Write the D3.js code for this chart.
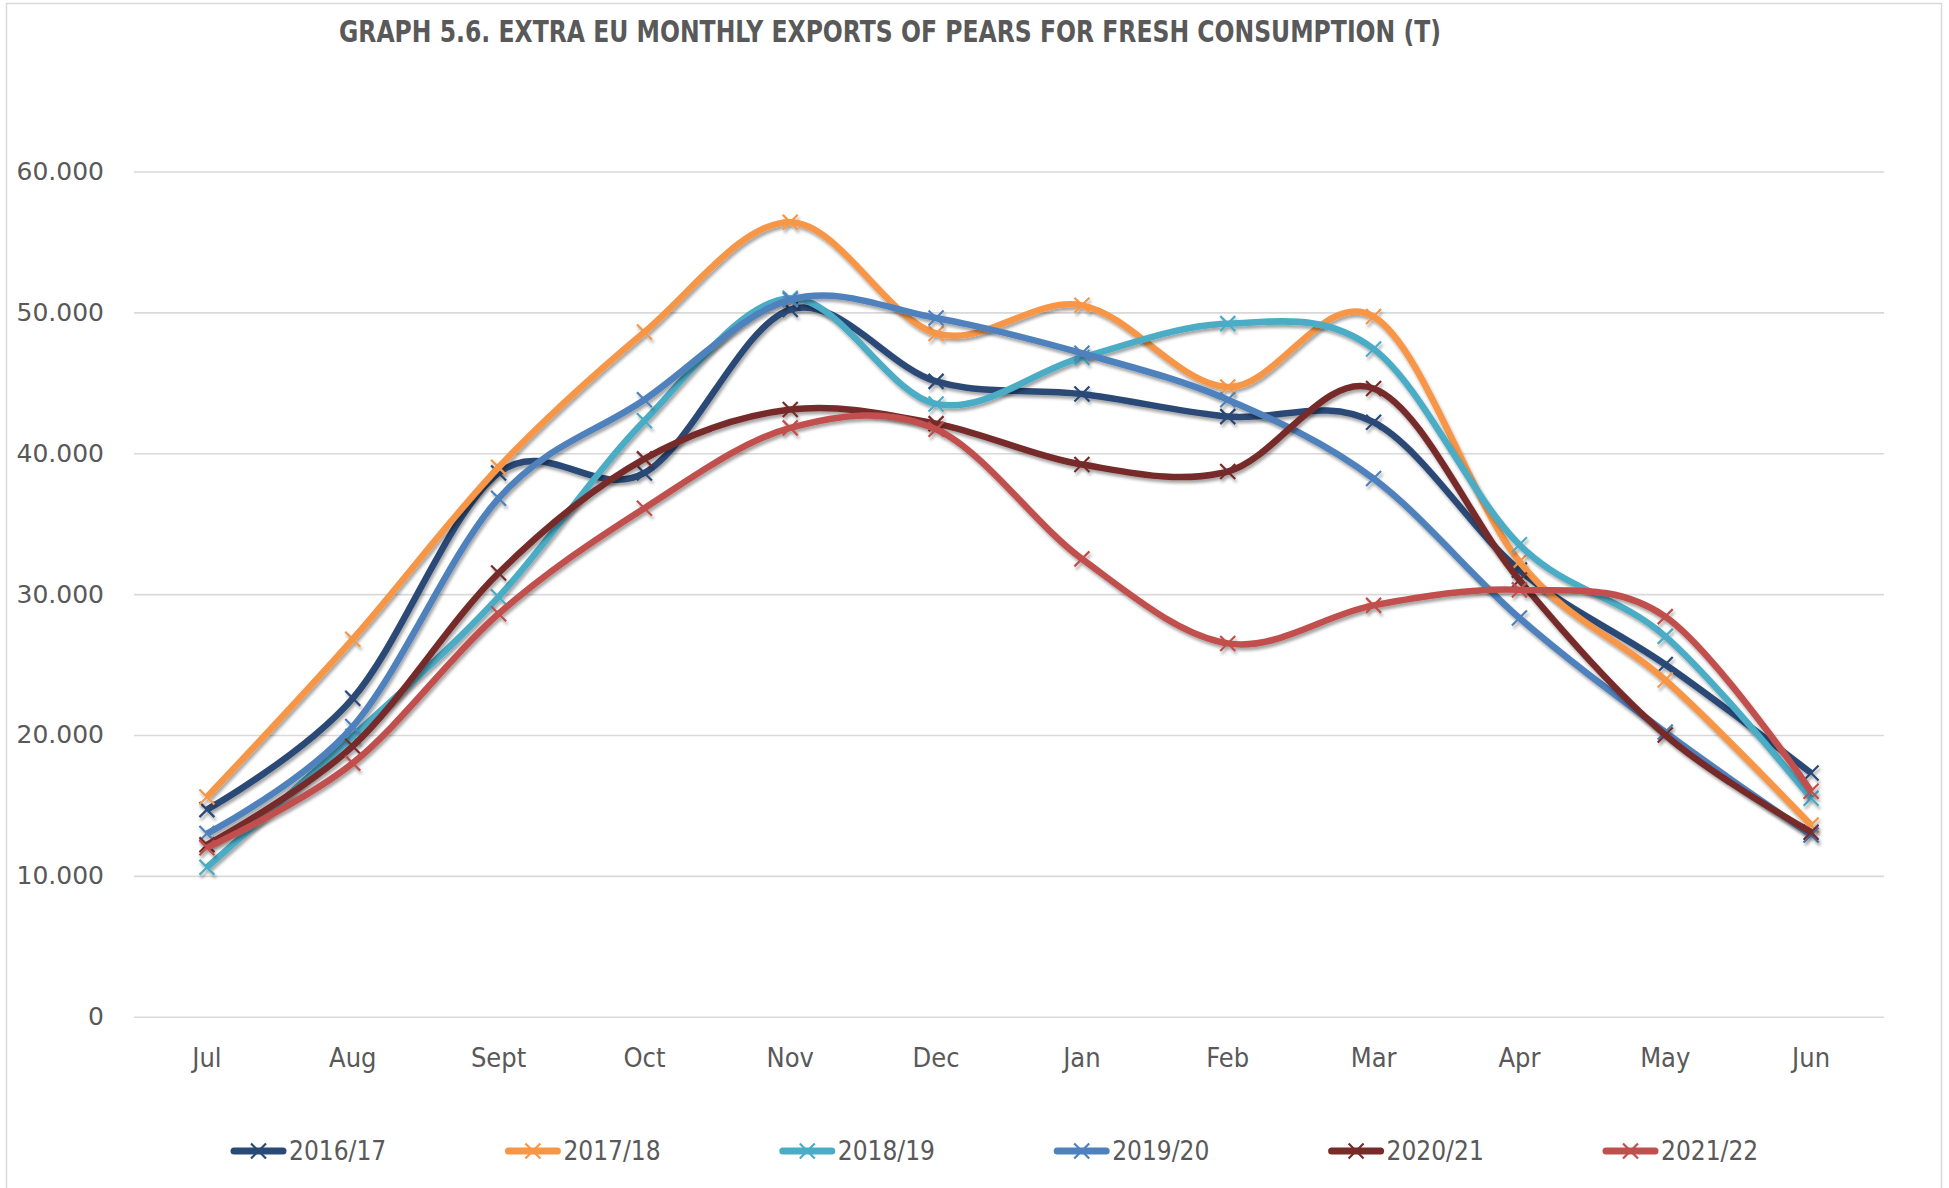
<!DOCTYPE html>
<html>
<head>
<meta charset="utf-8">
<script src="https://cdn.jsdelivr.net/npm/d3@7"></script>
<style>
  html, body { margin: 0; padding: 0; background: #fff; }
  svg { display: block; }
</style>
</head>
<body>
<svg id="chart" width="1949" height="1188"></svg>
<script>
const months = ['Jul', 'Aug', 'Sept', 'Oct', 'Nov', 'Dec', 'Jan', 'Feb', 'Mar', 'Apr', 'May', 'Jun'];
const seasons = ['2016/17', '2017/18', '2018/19', '2019/20', '2020/21', '2021/22'];
const yTicks = [0, 10000, 20000, 30000, 40000, 50000, 60000];

const s2016 = [14700, 22600, 38600, 38600, 50200, 45100, 44200, 42600, 42200, 31700, 25000, 17300];
const s2017 = [15600, 26800, 39000, 48600, 56400, 48500, 50500, 44700, 49700, 32300, 23900, 13600];
const s2018 = [10600, 19900, 29800, 42300, 51000, 43500, 46800, 49200, 47400, 33500, 27000, 15500];
const s2019 = [13000, 20600, 36800, 43800, 50900, 49600, 47100, 43800, 38200, 28300, 20200, 12900];
const s2020 = [12200, 19200, 31500, 39600, 43100, 42100, 39200, 38700, 44600, 31000, 20000, 13100];
const s2021 = [12000, 18000, 28600, 36100, 41800, 41700, 32500, 26500, 29200, 30300, 28400, 16000];

const colors = ['#2a4a76', '#f79646', '#4bacc6', '#4f81bd', '#772c2a', '#c0504d'];
const series = [s2016, s2017, s2018, s2019, s2020, s2021].map((values, i) => ({
    name: seasons[i], values, color: colors[i]
}));

const svg = d3.select('#chart');
const plotLeft = 134, plotRight = 1884, plotTop = 171.5, plotBottom = 1016.7;
const narrowFont = '"Liberation Sans Narrow", "DejaVu Sans Condensed", sans-serif';

const defs = svg.append('defs');
const shadow = defs.append('filter').attr('id', 'shadow')
    .attr('x', '-5%').attr('y', '-5%').attr('width', '110%').attr('height', '115%');
shadow.append('feDropShadow')
    .attr('dx', 1.5).attr('dy', 3).attr('stdDeviation', 1.6)
    .attr('flood-color', '#000').attr('flood-opacity', 0.35);

// chart frame
svg.append('rect')
    .attr('x', 6.5).attr('y', 3.5).attr('width', 1935).attr('height', 1200)
    .attr('fill', 'none').attr('stroke', '#d9d9d9').attr('stroke-width', 1.5);

svg.append('text')
    .attr('x', 339).attr('y', 42)
    .attr('textLength', 1102).attr('lengthAdjust', 'spacingAndGlyphs')
    .attr('font-family', narrowFont)
    .attr('font-weight', 'bold').attr('font-size', 31).attr('fill', '#595959')
    .text('GRAPH 5.6. EXTRA EU MONTHLY EXPORTS OF PEARS FOR FRESH CONSUMPTION (T)');

const x = d3.scaleBand().domain(months).range([plotLeft, plotRight]);
const y = d3.scaleLinear().domain([0, 60000]).range([plotBottom, plotTop]);
const cx = m => x(m) + x.bandwidth() / 2;

const fmt = d3.formatLocale({decimal: ',', thousands: '.', grouping: [3], currency: ['', '']}).format(',');

const yAxis = svg.append('g')
    .attr('transform', `translate(${plotLeft},0)`)
    .call(d3.axisLeft(y).tickValues(yTicks).tickFormat(fmt).tickSize(-(plotRight - plotLeft)).tickPadding(30));
yAxis.select('.domain').remove();
yAxis.selectAll('line').attr('stroke', '#d9d9d9').attr('stroke-width', 1.6);
yAxis.selectAll('text')
    .attr('font-family', '"DejaVu Sans", sans-serif').attr('font-size', 25).attr('fill', '#595959');

const xAxis = svg.append('g')
    .attr('transform', `translate(0,${plotBottom})`)
    .call(d3.axisBottom(x).tickSize(0).tickPadding(31));
xAxis.select('.domain').remove();
xAxis.selectAll('text')
    .attr('font-family', narrowFont)
    .attr('font-size', 27).attr('fill', '#595959');

const line = d3.line()
    .x((d, i) => cx(months[i]))
    .y(d => y(d))
    .curve(d3.curveCatmullRom.alpha(0));

const markerPath = r => `M${-r},${-r}L${r},${r}M${-r},${r}L${r},${-r}`;

const groups = svg.append('g').selectAll('.series')
    .data(series)
    .enter()
    .append('g')
    .attr('class', 'series')
    .attr('filter', 'url(#shadow)');

groups.append('path')
    .attr('d', d => line(d.values))
    .attr('fill', 'none')
    .attr('stroke', d => d.color)
    .attr('stroke-width', 6.5)
    .attr('stroke-linejoin', 'round');

groups.each(function(d) {
    d3.select(this).selectAll('.mk')
        .data(d.values)
        .enter()
        .append('path')
        .attr('class', 'mk')
        .attr('transform', (v, i) => `translate(${cx(months[i])},${y(v)})`)
        .attr('d', markerPath(7.5))
        .attr('stroke', d.color)
        .attr('stroke-width', 2.2)
        .attr('fill', 'none');
});

// legend
const legend = svg.append('g').selectAll('.legend')
    .data(series)
    .enter()
    .append('g')
    .attr('class', 'legend')
    .attr('transform', (d, i) => `translate(${231 + i * 274.4},1151)`);

legend.append('line')
    .attr('x1', 3).attr('x2', 52).attr('y1', 0).attr('y2', 0)
    .attr('stroke', d => d.color).attr('stroke-width', 7).attr('stroke-linecap', 'round');
legend.append('path')
    .attr('transform', 'translate(27.5,0)')
    .attr('d', markerPath(7.5))
    .attr('stroke', d => d.color).attr('stroke-width', 2.2);
legend.append('text')
    .attr('x', 58).attr('y', 9)
    .attr('font-family', narrowFont)
    .attr('font-size', 26).attr('fill', '#595959')
    .text(d => d.name);
</script>
</body>
</html>
